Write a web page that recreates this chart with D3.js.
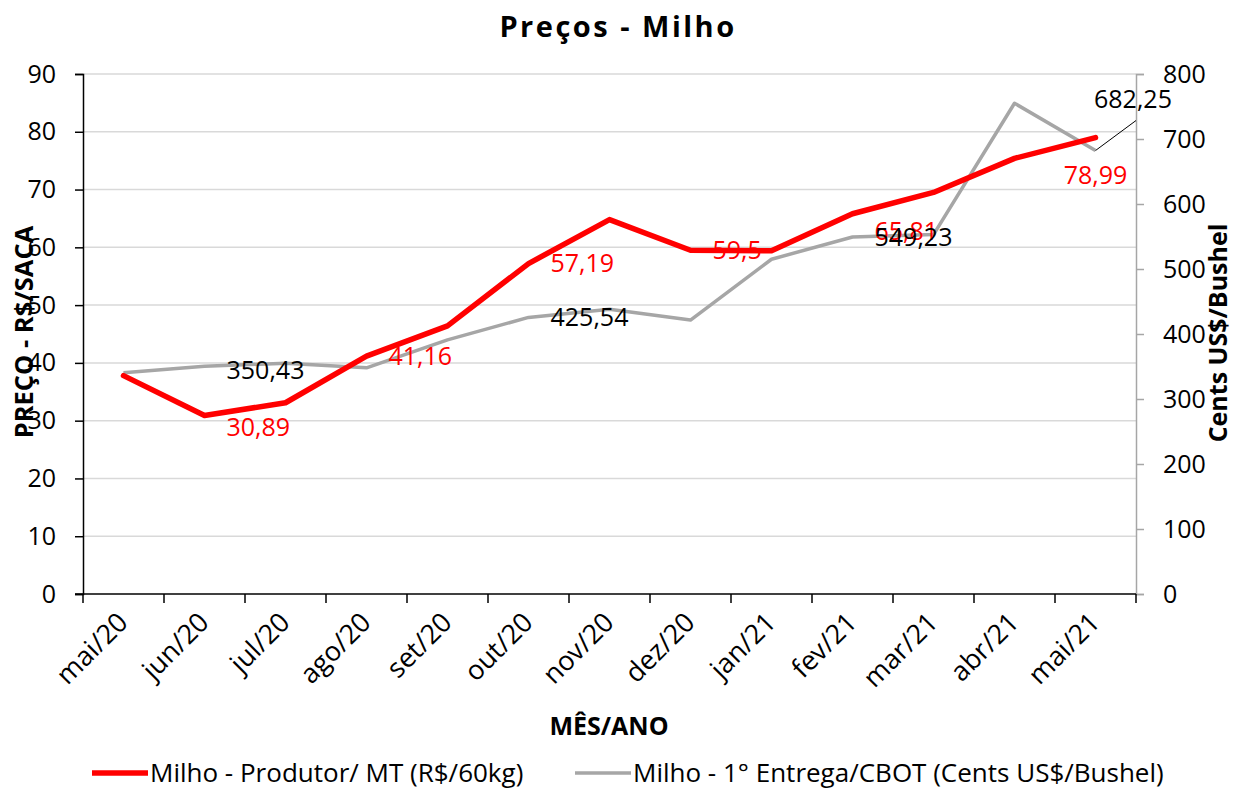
<!DOCTYPE html>
<html>
<head>
<meta charset="utf-8">
<script src="https://cdn.jsdelivr.net/npm/d3@7"></script>
<style>
  html, body { margin: 0; padding: 0; background: #fff; }
  svg text { font-family: "Open Sans", "Noto Sans", sans-serif; }
</style>
</head>
<body>
<svg id="chart" width="1234" height="790"></svg>
<script>
// categories and series
var meses = ["mai/20", "jun/20", "jul/20", "ago/20", "set/20", "out/20", "nov/20",
             "dez/20", "jan/21", "fev/21", "mar/21", "abr/21", "mai/21"];
var produtorMT = [37.8, 30.89, 33.1, 41.16, 46.4, 57.19, 64.8, 59.5, 59.4, 65.81, 69.5, 75.4, 78.99];
var cbot = [340.5, 350.43, 355, 348, 391, 425.54, 438, 421.5, 515, 549.23, 553, 755, 682.25];
var ticksLeft = [0, 10, 20, 30, 40, 50, 60, 70, 80, 90];
var ticksRight = [0, 100, 200, 300, 400, 500, 600, 700, 800];
// points that carry a data label
var labelsProdutor = [1, 3, 5, 7, 9, 12];
var labelsCbot = [1, 5, 9, 12];

(function () {
var fmt = function (v) { return String(v).replace(".", ","); };

var svg = d3.select("#chart");
var plotLeft = 83, plotRight = 1136, plotTop = 74, plotBottom = 594;

var x = d3.scaleBand().domain(meses).range([plotLeft, plotRight]);
var yL = d3.scaleLinear().domain([0, 90]).range([plotBottom, plotTop]);
var yR = d3.scaleLinear().domain([0, 800]).range([plotBottom, plotTop]);
var cx = function (i) { return x(meses[i]) + x.bandwidth() / 2; };

// gridlines
svg.append("g").selectAll("line").data(ticksLeft.slice(1)).enter().append("line")
    .attr("x1", plotLeft).attr("x2", plotRight)
    .attr("y1", function (d) { return yL(d); }).attr("y2", function (d) { return yL(d); })
    .attr("stroke", "#d9d9d9").attr("stroke-width", 1.5);

// left axis
var gL = svg.append("g").attr("transform", "translate(" + plotLeft + ",0)")
    .call(d3.axisLeft(yL).tickValues(ticksLeft).tickSize(8).tickPadding(19));
gL.select(".domain").attr("stroke", "#000").attr("stroke-width", 1.5);
gL.selectAll(".tick line").attr("stroke", "#000").attr("stroke-width", 1.5);
gL.selectAll("text").attr("font-size", 25).attr("fill", "#000")
    .style("font-family", "Open Sans");

// right axis
var gR = svg.append("g").attr("transform", "translate(" + plotRight + ",0)")
    .call(d3.axisRight(yR).tickValues(ticksRight).tickSize(8).tickPadding(19));
gR.select(".domain").attr("stroke", "#a6a6a6").attr("stroke-width", 1.5);
gR.selectAll(".tick line").attr("stroke", "#a6a6a6").attr("stroke-width", 1.5);
gR.selectAll("text").attr("font-size", 25).attr("fill", "#000")
    .style("font-family", "Open Sans");

// x axis: ticks between categories
var bounds = meses.map(function (m) { return x(m); }).concat([plotRight]);
var gX = svg.append("g");
gX.selectAll("line.tk").data(bounds).enter().append("line").attr("class", "tk")
    .attr("x1", function (d) { return d; }).attr("x2", function (d) { return d; })
    .attr("y1", plotBottom).attr("y2", plotBottom + 9)
    .attr("stroke", "#000").attr("stroke-width", 1.5);
gX.append("line").attr("x1", plotLeft - 8).attr("x2", plotRight)
    .attr("y1", plotBottom).attr("y2", plotBottom)
    .attr("stroke", "#000").attr("stroke-width", 1.5);
gX.selectAll("text").data(meses).enter().append("text")
    .attr("transform", function (d, i) {
        return "translate(" + (cx(i) + 6) + "," + (plotBottom + 30) + ") rotate(-45)";
    })
    .attr("text-anchor", "end")
    .attr("font-size", 27)
    .attr("fill", "#000")
    .text(function (d) { return d; });

// lines
var lineL = d3.line().x(function (d, i) { return cx(i); }).y(function (d) { return yL(d); });
var lineR = d3.line().x(function (d, i) { return cx(i); }).y(function (d) { return yR(d); });

svg.append("path").datum(cbot).attr("d", lineR)
    .attr("fill", "none").attr("stroke", "#a6a6a6").attr("stroke-width", 3.5)
    .attr("stroke-linejoin", "round");
svg.append("path").datum(produtorMT).attr("d", lineL)
    .attr("fill", "none").attr("stroke", "#ff0000").attr("stroke-width", 5.5)
    .attr("stroke-linejoin", "round").attr("stroke-linecap", "round");

// data labels: to the right of the point; a few were nudged in the original
var nudgeRed = function (i) { return i === 1 ? 12 : (i === 9 ? 17 : 0); };
svg.append("g").selectAll("text").data(labelsProdutor).enter().append("text")
    .attr("x", function (i) { return i === 12 ? cx(i) : cx(i) + 22; })
    .attr("y", function (i) { return i === 12 ? yL(produtorMT[i]) + 38 : yL(produtorMT[i]) + nudgeRed(i); })
    .attr("dy", "0.35em")
    .attr("text-anchor", function (i) { return i === 12 ? "middle" : "start"; })
    .attr("font-size", 25).attr("fill", "#ff0000")
    .text(function (i) { return fmt(produtorMT[i]); });

var last = cbot.length - 1;
svg.append("line")
    .attr("x1", cx(last)).attr("y1", yR(cbot[last]))
    .attr("x2", plotRight).attr("y2", yR(cbot[last]) - 30)
    .attr("stroke", "#000").attr("stroke-width", 1);

svg.append("g").selectAll("text").data(labelsCbot).enter().append("text")
    .attr("x", function (i) { return i === last ? plotRight - 3 : cx(i) + 22; })
    .attr("y", function (i) { return i === last ? yR(cbot[i]) - 51 : yR(cbot[i]) + (i === 1 ? 4 : 0); })
    .attr("dy", "0.35em")
    .attr("text-anchor", function (i) { return i === last ? "middle" : "start"; })
    .attr("font-size", 25).attr("fill", "#000")
    .text(function (i) { return fmt(cbot[i]); });

// titles
svg.append("text").attr("x", 618).attr("y", 37).attr("text-anchor", "middle")
    .attr("font-size", 29).attr("font-weight", "bold").attr("letter-spacing", 2.5)
    .text("Preços - Milho");

svg.append("text").attr("x", 609).attr("y", 735).attr("text-anchor", "middle")
    .attr("font-size", 25).attr("font-weight", "bold")
    .text("MÊS/ANO");

svg.append("text").attr("transform", "translate(33,332) rotate(-90)")
    .attr("text-anchor", "middle")
    .attr("font-size", 25.5).attr("font-weight", "bold")
    .text("PREÇO - R$/SACA");

svg.append("text").attr("transform", "translate(1227,333) rotate(-90)")
    .attr("text-anchor", "middle")
    .attr("font-size", 25).attr("font-weight", "bold")
    .text("Cents US$/Bushel");

// legend
var legend = [
    { name: "Milho - Produtor/ MT (R$/60kg)", color: "#ff0000", w: 5.5, x0: 92 },
    { name: "Milho - 1° Entrega/CBOT (Cents US$/Bushel)", color: "#a6a6a6", w: 3.5, x0: 575 }
];
var lg = svg.append("g").selectAll("g").data(legend).enter().append("g")
    .attr("transform", function (d) { return "translate(" + d.x0 + ",773)"; });
lg.append("line").attr("x1", 0).attr("x2", 56).attr("y1", 0).attr("y2", 0)
    .attr("stroke", function (d) { return d.color; })
    .attr("stroke-width", function (d) { return d.w; });
lg.append("text").attr("x", 58).attr("y", 0).attr("dy", "0.35em")
    .attr("font-size", 26).attr("fill", "#000")
    .text(function (d) { return d.name; });
})();
</script>
</body>
</html>
